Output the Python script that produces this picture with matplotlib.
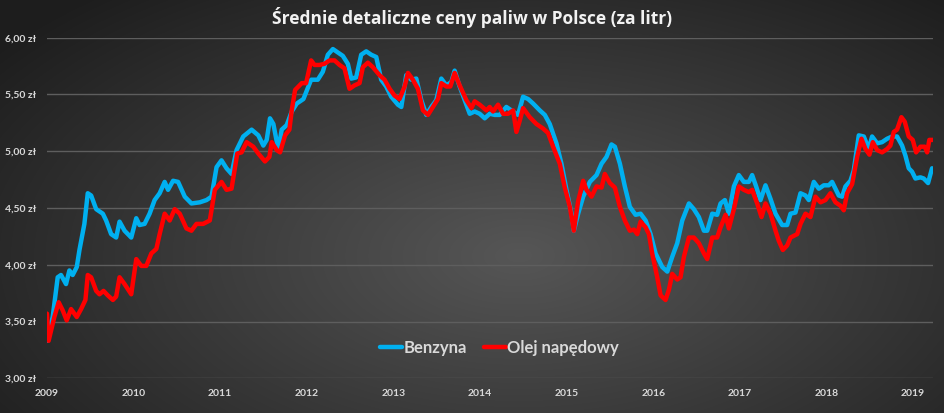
import numpy as np
import matplotlib
matplotlib.use("Agg")
import matplotlib.pyplot as plt
from matplotlib.ticker import FuncFormatter

plt.rcParams['font.family'] = ['Lato', 'DejaVu Sans']

# Benzyna (Pb95), rok dziesietny -> zl/litr
benz_t = [2009.000, 2009.066, 2009.124, 2009.162, 2009.220, 2009.259, 2009.297, 2009.344, 2009.375,
          2009.432, 2009.471, 2009.510, 2009.568, 2009.645, 2009.683, 2009.741, 2009.799, 2009.838,
          2009.896, 2009.973, 2010.031, 2010.069, 2010.127, 2010.185, 2010.243, 2010.301, 2010.359,
          2010.398, 2010.456, 2010.514, 2010.591, 2010.668, 2010.764, 2010.842, 2010.900, 2010.958,
          2011.015, 2011.073, 2011.131, 2011.189, 2011.266, 2011.363, 2011.440, 2011.498, 2011.537,
          2011.575, 2011.614, 2011.672, 2011.710, 2011.768, 2011.826, 2011.884, 2011.961, 2012.050,
          2012.127, 2012.185, 2012.243, 2012.301, 2012.358, 2012.416, 2012.474, 2012.513, 2012.570,
          2012.628, 2012.686, 2012.744, 2012.802, 2012.859, 2012.917, 2012.975, 2013.052, 2013.091,
          2013.148, 2013.206, 2013.264, 2013.322, 2013.380, 2013.437, 2013.495, 2013.553, 2013.611,
          2013.669, 2013.707, 2013.765, 2013.823, 2013.881, 2013.938, 2013.996, 2014.054, 2014.112,
          2014.170, 2014.227, 2014.304, 2014.382, 2014.439, 2014.497, 2014.555, 2014.613, 2014.690,
          2014.748, 2014.805, 2014.882, 2014.940, 2014.998, 2015.056, 2015.083, 2015.133, 2015.191,
          2015.268, 2015.345, 2015.403, 2015.460, 2015.518, 2015.557, 2015.615, 2015.672, 2015.730,
          2015.796, 2015.854, 2015.912, 2015.969, 2016.027, 2016.104, 2016.162, 2016.219, 2016.277,
          2016.335, 2016.412, 2016.469, 2016.527, 2016.585, 2016.623, 2016.681, 2016.738, 2016.777,
          2016.827, 2016.873, 2016.931, 2016.988, 2017.046, 2017.104, 2017.142, 2017.188, 2017.238,
          2017.296, 2017.354, 2017.412, 2017.488, 2017.546, 2017.585, 2017.642, 2017.700, 2017.758,
          2017.796, 2017.854, 2017.912, 2017.969, 2018.027, 2018.065, 2018.142, 2018.181, 2018.219,
          2018.277, 2018.315, 2018.373, 2018.431, 2018.488, 2018.527, 2018.585, 2018.642, 2018.700,
          2018.758, 2018.815, 2018.873, 2018.912, 2018.950, 2018.988, 2019.027, 2019.085, 2019.123,
          2019.173, 2019.219]
benz_v = [3.33, 3.54, 3.89, 3.91, 3.83, 3.95, 3.91, 3.98, 4.13,
          4.36, 4.63, 4.61, 4.49, 4.45, 4.39, 4.27, 4.24, 4.38,
          4.30, 4.24, 4.41, 4.35, 4.36, 4.45, 4.57, 4.63, 4.73,
          4.66, 4.74, 4.73, 4.60, 4.54, 4.55, 4.57, 4.60, 4.86,
          4.92, 4.85, 4.80, 5.01, 5.13, 5.19, 5.14, 5.05, 5.10,
          5.29, 5.24, 5.01, 5.19, 5.23, 5.35, 5.42, 5.46, 5.63,
          5.63, 5.70, 5.85, 5.90, 5.87, 5.84, 5.77, 5.64, 5.65,
          5.85, 5.88, 5.85, 5.83, 5.63, 5.57, 5.48, 5.41, 5.39,
          5.67, 5.63, 5.64, 5.45, 5.32, 5.39, 5.45, 5.64, 5.58,
          5.61, 5.71, 5.57, 5.45, 5.33, 5.35, 5.33, 5.29, 5.33,
          5.32, 5.32, 5.39, 5.35, 5.32, 5.48, 5.46, 5.42, 5.36,
          5.32, 5.24, 5.07, 4.89, 4.66, 4.45, 4.30, 4.45, 4.60,
          4.73, 4.79, 4.89, 4.95, 5.06, 5.04, 4.89, 4.69, 4.51,
          4.44, 4.45, 4.39, 4.27, 4.10, 3.98, 3.94, 4.07, 4.19,
          4.39, 4.54, 4.49, 4.42, 4.30, 4.30, 4.45, 4.44, 4.54,
          4.57, 4.45, 4.69, 4.79, 4.73, 4.73, 4.79, 4.69, 4.57,
          4.70, 4.58, 4.45, 4.35, 4.35, 4.45, 4.46, 4.63, 4.61,
          4.57, 4.73, 4.67, 4.70, 4.70, 4.73, 4.61, 4.60, 4.69,
          4.74, 4.83, 5.14, 5.13, 5.02, 5.13, 5.07, 5.08, 5.11,
          5.13, 5.13, 5.05, 4.96, 4.85, 4.82, 4.76, 4.77, 4.76,
          4.72, 4.85]

# Olej napedowy
diesel_t = [2009.000, 2009.019, 2009.085, 2009.135, 2009.181, 2009.228, 2009.278, 2009.344, 2009.394,
            2009.444, 2009.471, 2009.510, 2009.568, 2009.606, 2009.653, 2009.703, 2009.761, 2009.799,
            2009.838, 2009.896, 2009.973, 2010.031, 2010.089, 2010.147, 2010.205, 2010.263, 2010.301,
            2010.359, 2010.417, 2010.475, 2010.533, 2010.610, 2010.668, 2010.726, 2010.803, 2010.880,
            2010.938, 2011.015, 2011.073, 2011.131, 2011.197, 2011.247, 2011.305, 2011.382, 2011.440,
            2011.517, 2011.568, 2011.595, 2011.653, 2011.691, 2011.749, 2011.799, 2011.826, 2011.865,
            2011.942, 2011.992, 2012.050, 2012.089, 2012.146, 2012.204, 2012.262, 2012.320, 2012.378,
            2012.435, 2012.493, 2012.551, 2012.609, 2012.647, 2012.705, 2012.763, 2012.840, 2012.898,
            2012.956, 2013.013, 2013.071, 2013.129, 2013.168, 2013.225, 2013.283, 2013.341, 2013.399,
            2013.457, 2013.514, 2013.553, 2013.611, 2013.657, 2013.707, 2013.765, 2013.842, 2013.900,
            2013.938, 2013.996, 2014.073, 2014.112, 2014.150, 2014.208, 2014.266, 2014.324, 2014.382,
            2014.420, 2014.459, 2014.497, 2014.574, 2014.651, 2014.728, 2014.786, 2014.844, 2014.921,
            2014.979, 2015.037, 2015.083, 2015.133, 2015.191, 2015.229, 2015.287, 2015.345, 2015.403,
            2015.441, 2015.499, 2015.557, 2015.615, 2015.672, 2015.730, 2015.777, 2015.815, 2015.854,
            2015.912, 2015.950, 2015.988, 2016.046, 2016.085, 2016.142, 2016.181, 2016.219, 2016.277,
            2016.315, 2016.354, 2016.412, 2016.469, 2016.527, 2016.585, 2016.623, 2016.681, 2016.738,
            2016.777, 2016.835, 2016.873, 2016.931, 2016.988, 2017.046, 2017.104, 2017.142, 2017.200,
            2017.250, 2017.296, 2017.354, 2017.412, 2017.450, 2017.496, 2017.546, 2017.585, 2017.662,
            2017.700, 2017.758, 2017.815, 2017.873, 2017.931, 2017.988, 2018.046, 2018.104, 2018.162,
            2018.200, 2018.238, 2018.296, 2018.354, 2018.404, 2018.450, 2018.496, 2018.535, 2018.585,
            2018.642, 2018.700, 2018.738, 2018.777, 2018.815, 2018.865, 2018.904, 2018.950, 2018.996,
            2019.035, 2019.085, 2019.135, 2019.162, 2019.188, 2019.227]
diesel_v = [3.57, 3.33, 3.54, 3.67, 3.60, 3.51, 3.61, 3.54, 3.61,
            3.69, 3.91, 3.89, 3.77, 3.74, 3.77, 3.73, 3.69, 3.72,
            3.89, 3.83, 3.74, 4.05, 3.99, 3.99, 4.10, 4.14, 4.27,
            4.45, 4.39, 4.49, 4.45, 4.32, 4.30, 4.36, 4.36, 4.39,
            4.66, 4.73, 4.66, 4.67, 4.98, 4.99, 5.08, 5.04, 4.98,
            4.91, 4.95, 5.08, 5.01, 4.99, 5.14, 5.19, 5.36, 5.54,
            5.60, 5.60, 5.80, 5.76, 5.76, 5.77, 5.80, 5.80, 5.76,
            5.73, 5.55, 5.58, 5.60, 5.74, 5.78, 5.74, 5.67, 5.63,
            5.55, 5.49, 5.46, 5.57, 5.69, 5.63, 5.55, 5.36, 5.32,
            5.39, 5.46, 5.60, 5.57, 5.57, 5.69, 5.58, 5.45, 5.38,
            5.44, 5.41, 5.36, 5.39, 5.35, 5.41, 5.33, 5.33, 5.36,
            5.17, 5.27, 5.38, 5.30, 5.24, 5.20, 5.16, 5.04, 4.89,
            4.68, 4.51, 4.30, 4.56, 4.74, 4.66, 4.60, 4.69, 4.68,
            4.80, 4.72, 4.68, 4.51, 4.39, 4.30, 4.31, 4.27, 4.38,
            4.33, 4.27, 4.10, 3.89, 3.73, 3.69, 3.78, 3.92, 3.87,
            3.89, 4.07, 4.24, 4.24, 4.19, 4.10, 4.05, 4.24, 4.24,
            4.33, 4.44, 4.32, 4.49, 4.69, 4.66, 4.64, 4.66, 4.54,
            4.42, 4.54, 4.45, 4.30, 4.21, 4.13, 4.17, 4.24, 4.27,
            4.36, 4.45, 4.42, 4.60, 4.55, 4.57, 4.63, 4.55, 4.52,
            4.48, 4.63, 4.71, 4.95, 5.11, 5.02, 4.97, 5.08, 5.01,
            4.99, 5.02, 5.05, 5.17, 5.19, 5.30, 5.26, 5.13, 5.10,
            4.99, 5.04, 5.04, 4.99, 5.10, 5.10]

years = list(range(2009, 2020))
price_ticks = [3.0, 3.5, 4.0, 4.5, 5.0, 5.5, 6.0]

fig = plt.figure(figsize=(9.45, 4.13), dpi=100)

# tlo: radialny gradient
bg = fig.add_axes([0, 0, 1, 1], zorder=0)
yy, xx = np.mgrid[0:1:413j, 0:1:945j]
r = np.sqrt(((xx - 0.55) / 0.75) ** 2 + ((yy - 0.62) / 0.9) ** 2)
shade = np.clip(0.34 - 0.24 * r, 0.12, 0.36)
bg.imshow(shade, cmap='gray', vmin=0, vmax=1, aspect='auto', extent=[0, 1, 0, 1])
bg.set_axis_off()

ax = fig.add_axes([0.0497, 0.084, 0.9376, 0.8247], zorder=1)
ax.patch.set_alpha(0)

ax.plot(benz_t, benz_v, color='#00B0F0', lw=3.2, solid_capstyle='round',
        solid_joinstyle='round', label='Benzyna')
ax.plot(diesel_t, diesel_v, color='#FF0000', lw=3.2, solid_capstyle='round',
        solid_joinstyle='round', label='Olej napędowy')

ax.set_xlim(2009, 2019.23)
ax.set_ylim(3.0, 6.0)
ax.set_yticks(price_ticks)
ax.yaxis.set_major_formatter(FuncFormatter(lambda v, p: f"{v:.2f}".replace('.', ',') + " zł"))
ax.set_xticks(years)
ax.set_xticklabels([str(y) for y in years])
ax.grid(axis='y', color='#5e5e5e', lw=1.0)
ax.set_axisbelow(True)
for s in ax.spines.values():
    s.set_visible(False)
ax.tick_params(length=0, colors='#d9d9d9', labelsize=7.5)
ax.tick_params(axis='y', pad=8)
ax.tick_params(axis='x', pad=8)
for lab in ax.get_xticklabels() + ax.get_yticklabels():
    lab.set_fontweight('bold')

leg = ax.legend(loc='center', bbox_to_anchor=(0.511, 0.09), ncol=2, frameon=False,
                handlelength=1.3, handletextpad=0.1, columnspacing=1.0,
                prop={'weight': 'bold', 'size': 12})
for t in leg.get_texts():
    t.set_color('#d9d9d9')

fig.text(0.5, 0.958, 'Średnie detaliczne ceny paliw w Polsce (za litr)', ha='center', va='center',
         color='#f2f2f2', fontsize=12.5, fontweight='bold', family=['Open Sans', 'DejaVu Sans'])

fig.savefig('out.png', dpi=100)
